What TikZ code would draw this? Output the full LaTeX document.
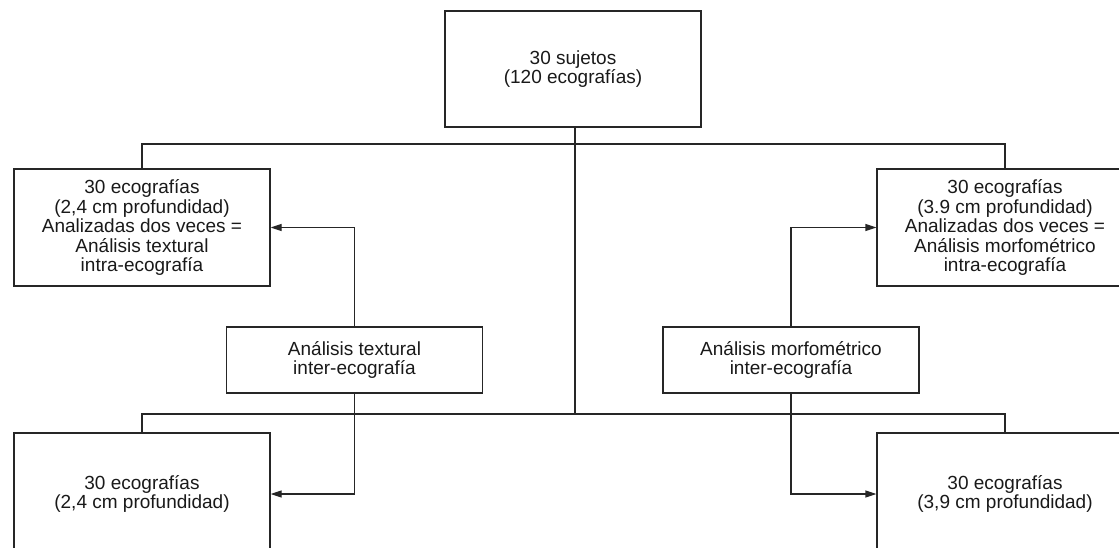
\documentclass[tikz,border=0pt]{standalone}
\usepackage{fontspec}
\setmainfont{Liberation Sans}
\usetikzlibrary{arrows.meta}
\begin{document}
\begin{tikzpicture}[x=1pt,y=-1pt,
  box/.style={draw=black!85, line width=1.3pt, align=center, inner sep=0pt,
    font=\fontsize{19}{19.5}\selectfont, text=black!90, minimum width=256pt},
  conn/.style={draw=black!85, line width=1.3pt},
  arr/.style={conn, -{Triangle[length=11pt,width=7pt]}}]
\clip (0,0) rectangle (1119,548);
\node[box, minimum height=116pt] (top) at (573,69) {30 sujetos\\(120 ecografías)};
\node[box, minimum height=117pt] (ul) at (142,227.5) {30 ecografías\\(2,4 cm profundidad)\\Analizadas dos veces =\\Análisis textural\\intra-ecografía};
\node[box, minimum height=117pt] (ur) at (1005,227.5) {30 ecografías\\(3.9 cm profundidad)\\Analizadas dos veces =\\Análisis morfométrico\\intra-ecografía};
\node[box, minimum height=66pt] (ml) at (354.5,360) {Análisis textural\\inter-ecografía};
\node[box, minimum height=66pt] (mr) at (791,360) {Análisis morfométrico\\inter-ecografía};
\node[box, minimum height=122pt] (bl) at (142,494) {30 ecografías\\(2,4 cm profundidad)};
\node[box, minimum height=122pt] (br) at (1005,494) {30 ecografías\\(3,9 cm profundidad)};
\coordinate (j1) at (575,144);
\coordinate (j2) at (575,414);
\draw[conn] (ul.north) |- (j1) -| (ur.north);
\draw[conn] (top.south -| j1) -- (j2);
\draw[conn] (bl.north) |- (j2) -| (br.north);
\draw[arr] (ml.north) |- (ul.east);
\draw[arr] (mr.north) |- (ur.west);
\draw[arr] (ml.south) |- (bl.east);
\draw[arr] (mr.south) |- (br.west);
\end{tikzpicture}
\end{document}
